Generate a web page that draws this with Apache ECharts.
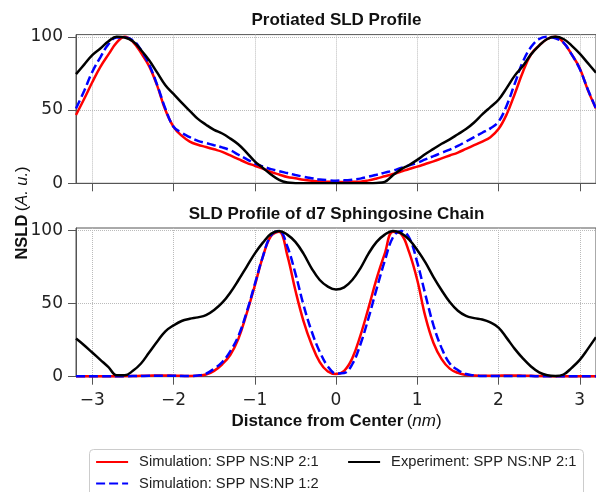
<!DOCTYPE html>
<html>
<head>
<meta charset="utf-8">
<script src="https://cdn.jsdelivr.net/npm/echarts@6/dist/echarts.min.js"></script>
<style>
html,body{margin:0;padding:0;background:#fff;}
#c{width:596px;height:492px;}
</style>
</head>
<body>
<div id="c"></div>
<script>
// x positions (nm), shared by every curve
const xs = [
  -3.2,-3.1,-3.0,-2.9,-2.8,-2.7,-2.6,-2.5,-2.4,-2.3,
  -2.2,-2.1,-2.0,-1.9,-1.8,-1.7,-1.6,-1.5,-1.4,-1.3,
  -1.2,-1.1,-1.0,-0.9,-0.8,-0.7,-0.6,-0.5,-0.4,-0.3,
  -0.2,-0.1,0.0,0.1,0.2,0.3,0.4,0.5,0.6,0.7,
  0.8,0.9,1.0,1.1,1.2,1.3,1.4,1.5,1.6,1.7,
  1.8,1.9,2.0,2.1,2.2,2.3,2.4,2.5,2.6,2.7,
  2.8,2.9,3.0,3.1,3.2
];
// Top panel: Protiated SLD Profile
const topSim21 = [
  46.6,57.5,69,79.5,88,96,100,96.6,89,80,
  66.5,50,38.6,32.5,28.5,26.3,24.8,23.2,21.5,19,
  16.5,14,12,10,7.7,6,4.3,3.4,2.4,1.7,
  1.2,1.0,0.9,0.9,1,1.1,2,3.3,4.8,6.3,
  8,9.8,11.4,13.2,15,17,19,21,23.5,26,
  28.5,31.5,37,47,61,76,88,94,98.5,100,
  96,88,78.5,63.6,51
];
const topSim12 = [
  51,63,76,86,95,99.5,99.5,97.7,91,81,
  67,51,38.6,34.5,31.5,29,27.5,26,24.5,22.5,
  19.5,16.5,13.6,11.5,9.7,8.3,7,5.7,4.5,3.5,
  2.6,2.1,1.8,2,2.5,3.2,4.5,5.8,7.3,8.6,
  10.5,12.2,14,16.3,18.5,20.8,23,25.5,28.5,31.5,
  34.5,37.5,42,53,68,83,93,98.5,100,99,
  96,88,78,64,51
];
const topExp21 = [
  74.5,81,87.5,92,97,100,99.5,97,91,84,
  75.5,67,61,55,49.5,44,40,36.5,34,30.5,
  26.5,21,15,10.5,6,2.3,0.5,0.1,0,0,
  0,0,0,0,0,0,0,0.2,1,5.5,
  9.5,12.5,16,20,23.5,27,30,33.5,37,41.5,
  47,52,57,65,73.5,80,88,94,98.5,100,
  98.5,94,88.5,82,75.5
];
// Bottom panel: SLD Profile of d7 Sphingosine Chain
const botSim21 = [
  0.3,0.3,0.3,0.3,0.3,0.3,0.4,0.5,0.6,0.7,
  0.8,0.8,0.7,0.6,0.5,0.6,1.5,4,8.5,15,
  26,43,62,82,96,99,83,59,38,22,
  10,3.5,1.8,4,12.5,28,47,67,84,99,
  97.5,85,66,41,23,12,5.5,2.6,1.2,0.8,
  0.6,0.6,0.7,0.8,0.8,0.7,0.6,0.5,0.4,0.3,
  0.3,0.3,0.3,0.3,0.3
];
const botSim12 = [
  0.3,0.3,0.3,0.3,0.3,0.3,0.3,0.4,0.5,0.6,
  0.6,0.6,0.6,0.5,0.5,0.8,2,5.5,10,17.5,
  28,44,63,82,96.5,99.5,89,70.5,49,31,
  17,7,2.2,2.5,8.5,22,40,60,79,95,
  99.5,95,78,56,35,19.5,9,4.5,1.8,0.9,
  0.5,0.5,0.5,0.5,0.5,0.4,0.4,0.3,0.3,0.3,
  0.3,0.3,0.3,0.3,0.3
];
const botExp21 = [
  26,21.5,16.5,11.5,6.5,1,1,4,9,16.5,
  24,31,35,38,39.5,40.5,42,45.5,50.5,57.5,
  66,75,84,91.5,97.5,99.5,97,92,84,74,
  66,61.5,59.5,61,66,74,84,92,97,99.5,
  98,93.5,86.5,78,68,59,51,45,41.5,40,
  39,37,33.5,26.5,19,12.5,7,3,1,0.5,
  1.5,6,11.5,19,27
];
const xTicks = [-3,-2,-1,0,1,2,3];
const yTicks = [0,50,100];
const names = ['Simulation: SPP NS:NP 2:1','Simulation: SPP NS:NP 1:2','Experiment: SPP NS:NP 2:1'];
const titles = ['Protiated SLD Profile','SLD Profile of d7 Sphingosine Chain'];

const pair = arr => xs.map((x,i)=>[x,arr[i]]);
const axisColor = '#555';
const gridTops = [34.6, 228];
const gridH = 148.7;

function xAxisFor(idx, labels){
  return {
    type:'value', gridIndex:idx, min:-3.2, max:3.2,
    axisLine:{show:true,onZero:false,lineStyle:{color:axisColor,width:1}},
    axisTick:{show:true,length:8,customValues:xTicks,lineStyle:{color:axisColor,width:1}},
    axisLabel:{show:labels,customValues:xTicks,margin:15,fontFamily:'DejaVu Sans',fontSize:17,color:'#222',
      formatter:v=> v<0 ? '\u2212'+Math.abs(v) : String(v)},
    splitLine:{show:true,lineStyle:{type:'dotted',color:'#bbb',width:1}}
  };
}
function yAxisFor(idx){
  return {
    type:'value', gridIndex:idx, min:0, max:101.5,
    axisLine:{show:true,onZero:false,lineStyle:{color:axisColor,width:1}},
    axisTick:{show:true,length:8,customValues:yTicks,lineStyle:{color:axisColor,width:1}},
    axisLabel:{customValues:yTicks,margin:13,fontFamily:'DejaVu Sans',fontSize:17,color:'#222'},
    splitLine:{show:true,lineStyle:{type:'dotted',color:'#bbb',width:1}}
  };
}
function seriesFor(name, data, idx, color, dashed){
  return {
    name, type:'line', xAxisIndex:idx, yAxisIndex:idx, data:pair(data),
    showSymbol:false, symbol:'none', smooth:0.4, clip:true,
    lineStyle:{color, width:2.5, type: dashed ? [9,4] : 'solid'},
    itemStyle:{color}, emphasis:{disabled:true}, z: dashed ? 3 : (color==='#000000'?4:2)
  };
}
const legendBase = {
  top:454, orient:'vertical', padding:0, itemWidth:32, itemHeight:16, itemGap:5.5,
  selectedMode:false, itemStyle:{opacity:0},
  lineStyle:{width:2.2},
  textStyle:{fontFamily:'Liberation Sans',fontSize:14.7,lineHeight:16,color:'#222',padding:[0,0,0,6]}
};
const chart = echarts.init(document.getElementById('c'), null, {renderer:'canvas'});
chart.setOption({
  animation:false,
  backgroundColor:'#fff',
  grid:[
    {left:76, top:gridTops[0], width:521, height:gridH, show:true, borderColor:axisColor, borderWidth:1, backgroundColor:'transparent'},
    {left:76, top:gridTops[1], width:521, height:gridH, show:true, borderColor:axisColor, borderWidth:1, backgroundColor:'transparent'}
  ],
  xAxis:[xAxisFor(0,false), xAxisFor(1,true)],
  yAxis:[yAxisFor(0), yAxisFor(1)],
  legend:[
    Object.assign({}, legendBase, {left:95, data:[names[0],names[1]]}),
    Object.assign({}, legendBase, {left:347, data:[names[2]]})
  ],
  graphic:[
    {type:'rect', z:-1, shape:{x:89.5, y:449.5, width:494, height:60, r:4}, style:{fill:'#fff', stroke:'#ccc', lineWidth:1}},
    {type:'text', x:336.5, y:20.7, style:{text:titles[0], align:'center', verticalAlign:'middle',
      font:'bold 17px "Liberation Sans"', fill:'#111'}},
    {type:'text', x:336.5, y:214, style:{text:titles[1], align:'center', verticalAlign:'middle',
      font:'bold 17px "Liberation Sans"', fill:'#111'}},
    {type:'text', x:336.5, y:421.7, style:{text:'{b|Distance from Center} {r|(}{i|nm}{r|)}', align:'center', verticalAlign:'middle',
      rich:{b:{fontFamily:'Liberation Sans',fontWeight:'bold',fontSize:17,fill:'#111'},
            r:{fontFamily:'Liberation Sans',fontSize:17,fill:'#111'},
            i:{fontFamily:'Liberation Sans',fontStyle:'italic',fontSize:17,fill:'#111'}}}},
    {type:'text', x:22.5, y:213, rotation:Math.PI/2, style:{text:'{b|NSLD} {r|(}{i|A. u.}{r|)}', align:'center', verticalAlign:'middle',
      rich:{b:{fontFamily:'Liberation Sans',fontWeight:'bold',fontSize:16.5,fill:'#111'},
            r:{fontFamily:'Liberation Sans',fontSize:16.5,fill:'#111'},
            i:{fontFamily:'Liberation Sans',fontStyle:'italic',fontSize:16.5,fill:'#111'}}}}
  ],
  series:[
    seriesFor(names[0], topSim21, 0, '#ff0000', false),
    seriesFor(names[1], topSim12, 0, '#0000ff', true),
    seriesFor(names[2], topExp21, 0, '#000000', false),
    seriesFor(names[0], botSim21, 1, '#ff0000', false),
    seriesFor(names[1], botSim12, 1, '#0000ff', true),
    seriesFor(names[2], botExp21, 1, '#000000', false)
  ]
});
</script>
</body>
</html>
